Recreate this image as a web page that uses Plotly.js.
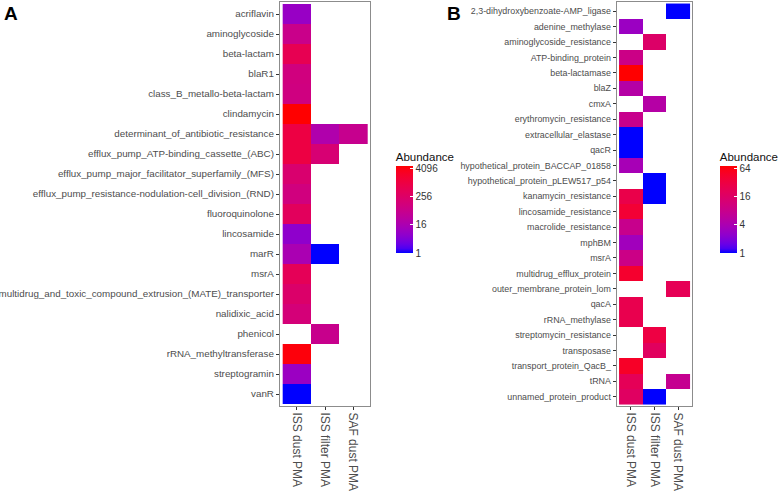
<!DOCTYPE html>
<html>
<head>
<meta charset="utf-8">
<script src="https://cdn.plot.ly/plotly-3.0.1.min.js"></script>
<style>
  html, body { margin: 0; padding: 0; background: #fff; }
  #chart { width: 778px; height: 492px; }
</style>
</head>
<body>
<div id="chart"></div>
<script>
// Columns (samples) shared by both panels
const samples = ['ISS dust PMA', 'ISS filter PMA', 'SAF dust PMA'];

// Panel A - resistance classes
const genesA = [
    'acriflavin', 'aminoglycoside', 'beta-lactam', 'blaR1', 'class_B_metallo-beta-lactam',
    'clindamycin', 'determinant_of_antibiotic_resistance', 'efflux_pump_ATP-binding_cassette_(ABC)',
    'efflux_pump_major_facilitator_superfamily_(MFS)', 'efflux_pump_resistance-nodulation-cell_division_(RND)',
    'fluoroquinolone', 'lincosamide', 'marR', 'msrA',
    'multidrug_and_toxic_compound_extrusion_(MATE)_transporter', 'nalidixic_acid', 'phenicol',
    'rRNA_methyltransferase', 'streptogramin', 'vanR'
];
const issDustA   = [8, 70, 600, 110, 100, 5500, 1000, 1000, 200, 110, 400, 6, 16, 480, 240, 140, null, 4600, 9, 1];
const issFilterA = [null, null, null, null, null, null, 20, 170, null, null, null, null, 1, null, null, null, 64, null, null, null];
const safDustA   = [null, null, null, null, null, null, 60, null, null, null, null, null, null, null, null, null, null, null, null, null];

// Panel B - gene annotations
const genesB = [
    '2,3-dihydroxybenzoate-AMP_ligase', 'adenine_methylase', 'aminoglycoside_resistance',
    'ATP-binding_protein', 'beta-lactamase', 'blaZ', 'cmxA', 'erythromycin_resistance',
    'extracellular_elastase', 'qacR', 'hypothetical_protein_BACCAP_01858',
    'hypothetical_protein_pLEW517_p54', 'kanamycin_resistance', 'lincosamide_resistance',
    'macrolide_resistance', 'mphBM', 'msrA', 'multidrug_efflux_protein', 'outer_membrane_protein_lom',
    'qacA', 'rRNA_methylase', 'streptomycin_resistance', 'transposase', 'transport_protein_QacB_',
    'tRNA', 'unnamed_protein_product'
];
const issDustB   = [null, 3, null, 9, 74, 5, null, 8, 1, 1, 3.7, null, 28, 40, 8, 3.3, 9, 45, null, 26, 26, null, null, 50, 22, 18];
const issFilterB = [null, null, 16, null, null, null, 5, null, null, null, null, 1, 1, null, null, null, null, null, null, null, null, 32, 19, null, null, 1];
const safDustB   = [1, null, null, null, null, null, null, null, null, null, null, null, null, null, null, null, null, null, 23, null, null, null, null, null, 7.5, null];

const ticksA = [1, 16, 256, 4096];
const ticksB = [1, 4, 16, 64];

// blue -> red gradient interpolated in Lab space (like ggplot's scale_fill_gradient)
function toLab(hex) {
    const c = [1, 3, 5].map(i => parseInt(hex.substr(i, 2), 16) / 255)
        .map(v => v <= 0.04045 ? v / 12.92 : Math.pow((v + 0.055) / 1.055, 2.4));
    const X = (0.4124 * c[0] + 0.3576 * c[1] + 0.1805 * c[2]) / 0.95047;
    const Y = (0.2126 * c[0] + 0.7152 * c[1] + 0.0722 * c[2]);
    const Z = (0.0193 * c[0] + 0.1192 * c[1] + 0.9505 * c[2]) / 1.08883;
    const f = t => t > 0.008856 ? Math.cbrt(t) : 7.787 * t + 16 / 116;
    return [116 * f(Y) - 16, 500 * (f(X) - f(Y)), 200 * (f(Y) - f(Z))];
}
function fromLab(L, a, b) {
    const fy = (L + 16) / 116, fx = fy + a / 500, fz = fy - b / 200;
    const inv = t => t * t * t > 0.008856 ? t * t * t : (t - 16 / 116) / 7.787;
    const X = inv(fx) * 0.95047, Y = inv(fy), Z = inv(fz) * 1.08883;
    const lin = [
        3.2406 * X - 1.5372 * Y - 0.4986 * Z,
        -0.9689 * X + 1.8758 * Y + 0.0415 * Z,
        0.0557 * X - 0.2040 * Y + 1.0570 * Z
    ];
    const rgb = lin.map(v => v <= 0.0031308 ? 12.92 * v : 1.055 * Math.pow(v, 1 / 2.4) - 0.055)
        .map(v => Math.round(Math.min(1, Math.max(0, v)) * 255));
    return `rgb(${rgb[0]},${rgb[1]},${rgb[2]})`;
}
const lo = toLab('#0000FF'), hi = toLab('#FF0000');
const blueRed = [];
for (let i = 0; i <= 20; i++) {
    const t = i / 20;
    blueRed.push([t, fromLab(lo[0] + (hi[0] - lo[0]) * t, lo[1] + (hi[1] - lo[1]) * t, lo[2] + (hi[2] - lo[2]) * t)]);
}

const log2 = v => (v == null ? null : Math.log2(v));
function buildZ(cols) {
    return cols[0].map((_, i) => cols.map(col => log2(col[i])));
}

const heatA = {
    type: 'heatmap',
    x: samples,
    y: genesA,
    z: buildZ([issDustA, issFilterA, safDustA]),
    coloraxis: 'coloraxis',
    xaxis: 'x',
    yaxis: 'y',
    hoverongaps: false
};
const heatB = {
    type: 'heatmap',
    x: samples,
    y: genesB,
    z: buildZ([issDustB, issFilterB, safDustB]),
    coloraxis: 'coloraxis2',
    xaxis: 'x2',
    yaxis: 'y2',
    hoverongaps: false
};

const H = 492, W = 778;
const yDomain = [1 - 406 / H, 1 - 2 / H];
const FONT = 'Liberation Sans, Arial, sans-serif';

const xStyle = {
    type: 'category',
    range: [-0.6, 2.6],
    tickangle: 90,
    ticks: 'outside',
    ticklen: 3,
    tickcolor: '#333333',
    tickfont: { family: FONT, size: 12, color: '#4d4d4d' },
    showline: true,
    mirror: true,
    linecolor: '#8c8c8c',
    linewidth: 1,
    showgrid: false,
    zeroline: false,
    fixedrange: true
};
const yStyle = {
    type: 'category',
    ticks: 'outside',
    ticklen: 3,
    tickcolor: '#333333',
    showline: true,
    mirror: true,
    linecolor: '#8c8c8c',
    linewidth: 1,
    showgrid: false,
    zeroline: false,
    domain: yDomain,
    fixedrange: true
};

function colorbarFor(ticks, xPx) {
    return {
        x: xPx / W,
        xanchor: 'left',
        y: 1 - 253 / H,
        yanchor: 'bottom',
        xpad: 0,
        ypad: 0,
        thickness: 17,
        thicknessmode: 'pixels',
        len: 104,
        lenmode: 'pixels',
        outlinewidth: 0,
        tickvals: ticks.map(Math.log2),
        ticktext: ticks.map(String),
        ticks: 'inside',
        ticklen: 3,
        tickcolor: '#ffffff',
        tickfont: { family: FONT, size: 10, color: '#333333' },
        title: {
            text: 'Abundance',
            side: 'top',
            font: { family: FONT, size: 11.5, color: '#111111' }
        }
    };
}

const layout = {
    width: W,
    height: H,
    margin: { l: 0, r: 0, t: 0, b: 0 },
    paper_bgcolor: '#ffffff',
    plot_bgcolor: '#ffffff',
    showlegend: false,
    xaxis: Object.assign({}, xStyle, { domain: [285 / W, 377 / W], anchor: 'y' }),
    yaxis: Object.assign({}, yStyle, {
        range: [genesA.length - 0.4, -0.6], anchor: 'x',
        tickfont: { family: FONT, size: 9.8, color: '#4d4d4d' }
    }),
    xaxis2: Object.assign({}, xStyle, { domain: [628 / W, 705 / W], anchor: 'y2' }),
    yaxis2: Object.assign({}, yStyle, {
        range: [genesB.length - 0.4, -0.6], anchor: 'x2',
        tickfont: { family: FONT, size: 8.9, color: '#4d4d4d' }
    }),
    coloraxis: {
        colorscale: blueRed,
        cmin: 0,
        colorbar: colorbarFor(ticksA, 403)
    },
    coloraxis2: {
        colorscale: blueRed,
        cmin: 0,
        colorbar: colorbarFor(ticksB, 733)
    },
    annotations: [
        {
            text: '<b>A</b>', x: 2 / W, y: 1 - 1 / H, xref: 'paper', yref: 'paper',
            xanchor: 'left', yanchor: 'top', showarrow: false,
            font: { family: FONT, size: 19, color: '#000000' }
        },
        {
            text: '<b>B</b>', x: 453 / W, y: 1 - 1 / H, xref: 'paper', yref: 'paper',
            xanchor: 'left', yanchor: 'top', showarrow: false,
            font: { family: FONT, size: 19, color: '#000000' }
        }
    ]
};

Plotly.newPlot('chart', [heatA, heatB], layout, { displayModeBar: false, staticPlot: true });
</script>
</body>
</html>
